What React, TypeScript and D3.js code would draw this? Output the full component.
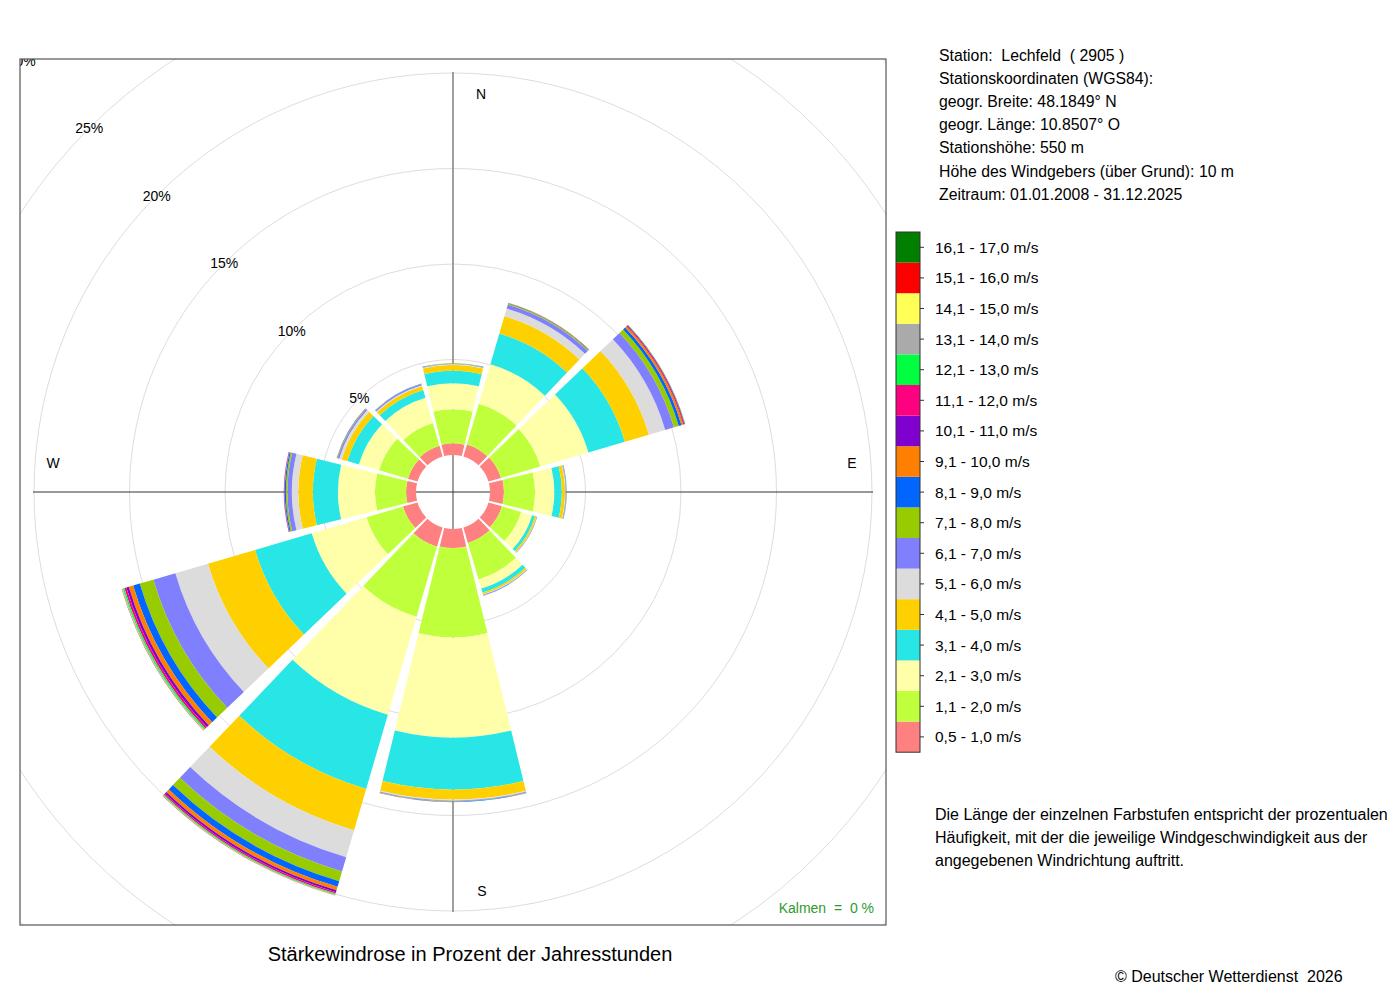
import React from "react";
import * as d3 from "d3";

// wind directions (compass bearing of sector centre, degrees)
const directions = [0, 30, 60, 90, 120, 150, 180, 210, 240, 270, 300, 330];

// frequency (% of year hours) per speed class, lowest class first
const dirN = [0.61, 1.79, 1.36, 0.66, 0.3, 0.04, 0.03, 0.02, 0.01];
const dir030 = [0.66, 2.22, 2.15, 1.68, 0.94, 0.42, 0.21, 0.05, 0.03, 0.02, 0.01];
const dir060 = [0.68, 2.15, 2.62, 1.99, 1.31, 0.89, 0.48, 0.26, 0.15, 0.11, 0.04, 0.04, 0.02];
const dirE = [0.73, 1.63, 1.01, 0.39, 0.17, 0.03, 0.03, 0.02, 0.01];
const dir120 = [0.73, 1.05, 0.6, 0.16, 0.08, 0.02, 0.02, 0.01];
const dir150 = [0.84, 1.99, 0.5, 0.22, 0.09, 0.03, 0.03, 0.01, 0.01];
const dirS = [1.0, 4.68, 5.24, 2.72, 0.52, 0.06, 0.03, 0.02, 0.02, 0.01];
const dir210 = [1.05, 3.82, 5.35, 4.04, 2.25, 1.47, 0.78, 0.53, 0.31, 0.19, 0.1, 0.08, 0.05, 0.03, 0.01, 0.01, 0.005];
const dir240 = [0.79, 1.99, 2.99, 3.09, 2.57, 1.78, 1.2, 0.74, 0.36, 0.24, 0.13, 0.11, 0.07, 0.04, 0.02, 0.01, 0.005];
const dirW = [0.52, 1.63, 1.94, 1.31, 0.76, 0.34, 0.23, 0.08, 0.06, 0.02, 0.02, 0.01];
const dir300 = [0.52, 1.58, 1.1, 0.63, 0.31, 0.13, 0.08, 0.03, 0.02, 0.01];
const dir330 = [0.58, 1.25, 1.37, 0.42, 0.21, 0.06, 0.06, 0.02, 0.01];

const sectors = [dirN, dir030, dir060, dirE, dir120, dir150, dirS, dir210, dir240, dirW, dir300, dir330];

// speed classes, lowest first
const classLabels = [
  "0,5 - 1,0 m/s", "1,1 - 2,0 m/s", "2,1 - 3,0 m/s", "3,1 - 4,0 m/s",
  "4,1 - 5,0 m/s", "5,1 - 6,0 m/s", "6,1 - 7,0 m/s", "7,1 - 8,0 m/s",
  "8,1 - 9,0 m/s", "9,1 - 10,0 m/s", "10,1 - 11,0 m/s", "11,1 - 12,0 m/s",
  "12,1 - 13,0 m/s", "13,1 - 14,0 m/s", "14,1 - 15,0 m/s", "15,1 - 16,0 m/s",
  "16,1 - 17,0 m/s",
];
const classColors = [
  "#ff8080", "#c0ff3c", "#ffffaa", "#28e6e6", "#ffd000", "#dcdcdc",
  "#8080ff", "#99cc00", "#0066ff", "#ff8000", "#8000d0", "#ff0080",
  "#00ff40", "#aaaaaa", "#ffff55", "#ff0000", "#007f00",
];

const gridValues = [5, 10, 15, 20, 25, 30];

const stationInfo = [
  "Station:  Lechfeld  ( 2905 )",
  "Stationskoordinaten (WGS84):",
  "geogr. Breite: 48.1849° N",
  "geogr. Länge: 10.8507° O",
  "Stationshöhe: 550 m",
  "Höhe des Windgebers (über Grund): 10 m",
  "Zeitraum: 01.01.2008 - 31.12.2025",
];

const note = [
  "Die Länge der einzelnen Farbstufen entspricht der prozentualen",
  "Häufigkeit, mit der die jeweilige Windgeschwindigkeit aus der",
  "angegebenen Windrichtung auftritt.",
];

const calms = 0;

const pre = { whiteSpace: "pre" } as React.CSSProperties;

const App: React.FC = () => {
  const W = 1400;
  const H = 1000;
  const cx = 453;
  const cy = 492;
  const box = { x: 20, y: 59, w: 866, h: 866 };
  const font = "'Liberation Sans', Arial, Helvetica, sans-serif";

  const r = d3.scaleLinear().domain([0, 20]).range([37, 419]);
  const half = (13.7 * Math.PI) / 180;
  const arc = d3.arc<any>();

  const wedges: { d: string; fill: string }[] = [];
  directions.forEach((deg, i) => {
    const a = (deg * Math.PI) / 180;
    let cum = 0;
    sectors[i].forEach((v, k) => {
      const d = arc({
        innerRadius: r(cum),
        outerRadius: r(cum + v),
        startAngle: a - half,
        endAngle: a + half,
      }) as string;
      cum += v;
      wedges.push({ d, fill: classColors[k] });
    });
  });

  const axisR = r(20) + 1;
  const diag = Math.SQRT1_2;
  const legendTop = 232;
  const legendStep = 30.6;
  const nClass = classLabels.length;

  return (
    <svg
      width={W}
      height={H}
      style={{ position: "absolute", left: 0, top: 0, fontFamily: font }}
    >
      <defs>
        <clipPath id="plotClip">
          <rect x={box.x} y={box.y} width={box.w} height={box.h} />
        </clipPath>
      </defs>
      <rect width={W} height={H} fill="white" />

      <g clipPath="url(#plotClip)">
        {gridValues.map((g) => (
          <circle key={g} cx={cx} cy={cy} r={r(g)} fill="none" stroke="#dddddd" strokeWidth={1} />
        ))}
        {gridValues.map((g) => (
          <text
            key={"l" + g}
            x={cx - r(g) * diag}
            y={cy - r(g) * diag}
            textAnchor="middle"
            dominantBaseline="central"
            fontSize={14}
            fill="#000"
          >
            {g}%
          </text>
        ))}
      </g>

      {/* axes */}
      <line x1={cx} x2={cx} y1={cy - axisR} y2={cy + axisR} stroke="#888" strokeWidth={1.6} />
      <line x1={cx - axisR} x2={cx + axisR} y1={cy} y2={cy} stroke="#333" strokeWidth={1} />

      {/* sectors */}
      <g transform={`translate(${cx},${cy})`}>
        {wedges.map((w, i) => (
          <path key={i} d={w.d} fill={w.fill} />
        ))}
      </g>

      {/* direction labels */}
      <g fontSize={14} textAnchor="middle" dominantBaseline="central">
        <text x={cx + 28} y={cy - 398}>N</text>
        <text x={cx + 29} y={cy + 399}>S</text>
        <text x={cx + 399} y={cy - 29}>E</text>
        <text x={cx - 400} y={cy - 29}>W</text>
      </g>

      <text
        x={box.x + box.w - 12}
        y={box.y + box.h - 17}
        textAnchor="end"
        dominantBaseline="central"
        fontSize={14}
        fill="#2e9b2e"
        xmlSpace="preserve"
        style={pre}
      >
        {`Kalmen  =  ${calms} %`}
      </text>

      <rect x={box.x} y={box.y} width={box.w} height={box.h} fill="none" stroke="#555" strokeWidth={1.2} />

      <text x={470} y={954} textAnchor="middle" dominantBaseline="central" fontSize={20}>
        Stärkewindrose in Prozent der Jahresstunden
      </text>

      {/* station info */}
      <g fontSize={15.8} dominantBaseline="central">
        {stationInfo.map((t, i) => (
          <text key={i} x={939} y={55 + i * 23.2} xmlSpace="preserve" style={pre}>
            {t}
          </text>
        ))}
      </g>

      {/* legend */}
      <g>
        {classLabels.map((lab, k) => {
          const y = legendTop + (nClass - 1 - k) * legendStep;
          return (
            <g key={k}>
              <rect x={896} y={y} width={24} height={legendStep} fill={classColors[k]} />
              <line x1={920} x2={924} y1={y + legendStep / 2} y2={y + legendStep / 2} stroke="#333" />
              <text x={935} y={y + legendStep / 2} dominantBaseline="central" fontSize={15.5}>
                {lab}
              </text>
            </g>
          );
        })}
        <rect
          x={896}
          y={legendTop}
          width={24}
          height={legendStep * nClass}
          fill="none"
          stroke="#333"
          strokeWidth={1}
        />
      </g>

      <g fontSize={16} dominantBaseline="central">
        {note.map((t, i) => (
          <text key={i} x={935} y={814 + i * 23}>
            {t}
          </text>
        ))}
      </g>

      <text x={1115} y={976} dominantBaseline="central" fontSize={16} xmlSpace="preserve" style={pre}>
        © Deutscher Wetterdienst  2026
      </text>
    </svg>
  );
};

export default App;
